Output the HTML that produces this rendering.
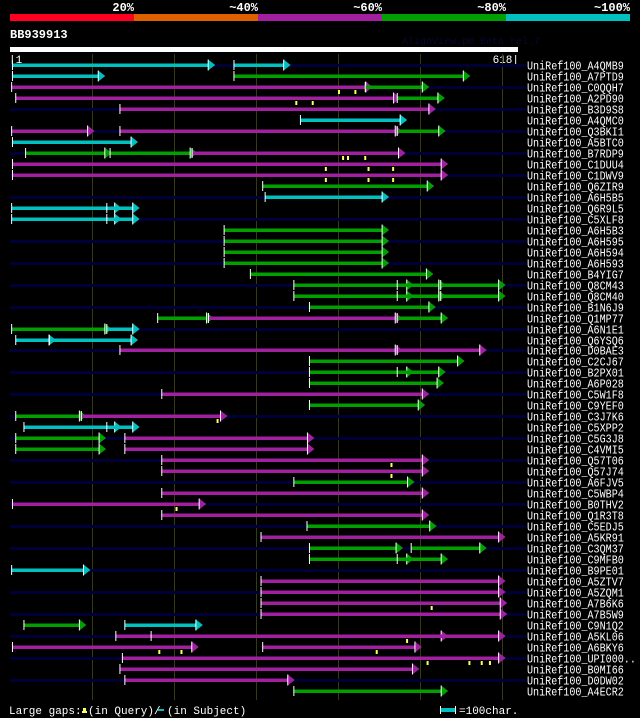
<!DOCTYPE html>
<html><head><meta charset="utf-8">
<style>
html,body{margin:0;padding:0;background:#000;}
svg{display:block;}
text{font-family:"Liberation Mono","DejaVu Sans Mono",monospace;}
</style></head>
<body>
<svg id="chart" width="640" height="718" viewBox="0 0 640 718">
<rect x="0" y="0" width="640" height="718" fill="#000"/>
<g>
<rect x="10" y="14" width="124" height="7" fill="#ff0020"/>
<rect x="134" y="14" width="124" height="7" fill="#e06000"/>
<rect x="258" y="14" width="124" height="7" fill="#a020a0"/>
<rect x="382" y="14" width="124" height="7" fill="#00a000"/>
<rect x="506" y="14" width="124" height="7" fill="#00c0c0"/>
<text x="134" y="11" fill="#fff" font-size="12" font-weight="bold" text-anchor="end">20%</text>
<text x="258" y="11" fill="#fff" font-size="12" font-weight="bold" text-anchor="end">~40%</text>
<text x="382" y="11" fill="#fff" font-size="12" font-weight="bold" text-anchor="end">~60%</text>
<text x="506" y="11" fill="#fff" font-size="12" font-weight="bold" text-anchor="end">~80%</text>
<text x="630" y="11" fill="#fff" font-size="12" font-weight="bold" text-anchor="end">~100%</text>
</g>
<text x="10" y="38" fill="#fff" font-size="12" font-weight="bold">BB939913</text>
<text x="402" y="44" fill="#080830" font-size="10">AlignView.pm Beta rel.7</text>
<rect x="10" y="47" width="508" height="5" fill="#fff"/>
<text x="9" y="63" fill="#fff" font-size="11">|1</text>
<text x="519" y="63" fill="#fff" font-size="11" text-anchor="end">618|</text>
<g id="grid"></g>
<g id="rows"></g>
<g>
<text x="9" y="714" fill="#fff" font-size="11">Large gaps:</text>
<rect x="83" y="708" width="3" height="4" fill="#ffff60"/><rect x="82" y="711" width="5" height="2" fill="#ffff60"/>
<text x="88" y="714" fill="#fff" font-size="11">(in Query)/</text>
<rect x="158" y="709" width="6" height="2" fill="#00c0c0"/>
<text x="167" y="714" fill="#fff" font-size="11">(in Subject)</text>
<rect x="440" y="706" width="1" height="8" fill="#fff"/>
<rect x="441" y="708" width="14" height="4" fill="#00c0c0"/>
<rect x="455" y="706" width="1" height="8" fill="#fff"/>
<text x="459" y="714" fill="#fff" font-size="11">=100char.</text>
</g>
</svg>
<script>
const names=["A4QMB9","A7PTD9","C0QQH7","A2PD90","B3D9S8","A4QMC0","Q3BKI1","A5BTC0","B7RDP9","C1DUU4","C1DWV9","Q6ZIR9","A6H5B5","Q6R9L5","C5XLF8","A6H5B3","A6H595","A6H594","A6H593","B4YIG7","Q8CM43","Q8CM40","B1N6J9","Q1MP77","A6N1E1","Q6YSQ6","D0BAE3","C2CJ67","B2PX01","A6P028","C5W1F8","C9YEF0","C3J7K6","C5XPP2","C5G3J8","C4VMI5","Q57T06","Q57J74","A6FJV5","C5WBP4","B0THV2","Q1R3T8","C5EDJ5","A5KR91","C3QM37","C9MFB0","B9PE01","A5ZTV7","A5ZQM1","A7B6K6","A7B5W9","C9N1Q2","A5KL06","A6BKY6","UPI000..","B0MI66","D0DW02","A4ECR2"];
// segments per row: [start, end, colorCode] in query residues; c=cyan g=green p=purple
const segments=[
[[3,244,"c"],[273,336,"c"]],
[[3,110,"c"],[273,555,"g"]],
[[2,436,"p"],[433,505,"g"]],
[[7,470,"p"],[472,524,"g"]],
[[134,513,"p"]],
[[354,478,"c"]],
[[2,97,"p"],[134,472,"p"],[472,525,"g"]],
[[3,150,"c"]],
[[19,118,"g"],[122,222,"g"],[222,476,"p"]],
[[3,528,"p"]],
[[3,528,"p"]],
[[308,511,"g"]],
[[311,456,"c"]],
[[2,130,"c"],[118,152,"c"]],
[[2,130,"c"],[118,152,"c"]],
[[261,456,"g"]],
[[261,456,"g"]],
[[261,456,"g"]],
[[261,456,"g"]],
[[293,510,"g"]],
[[346,486,"g"],[472,525,"g"],[525,598,"g"]],
[[346,486,"g"],[472,525,"g"],[525,598,"g"]],
[[365,513,"g"]],
[[180,242,"g"],[242,472,"p"],[472,528,"g"]],
[[2,118,"g"],[118,152,"c"]],
[[7,50,"c"],[48,150,"c"]],
[[134,472,"p"],[472,575,"p"]],
[[365,548,"g"]],
[[365,486,"g"],[472,525,"g"]],
[[365,523,"g"]],
[[185,505,"p"]],
[[365,500,"g"]],
[[7,87,"g"],[87,259,"p"]],
[[17,130,"c"],[118,152,"c"]],
[[7,111,"g"],[140,365,"p"]],
[[7,111,"g"],[140,365,"p"]],
[[185,505,"p"]],
[[185,505,"p"]],
[[346,487,"g"]],
[[185,505,"p"]],
[[3,233,"p"]],
[[185,505,"p"]],
[[362,514,"g"]],
[[306,598,"p"]],
[[365,473,"g"],[489,575,"g"]],
[[365,486,"g"],[472,528,"g"]],
[[2,92,"c"]],
[[306,598,"p"]],
[[306,598,"p"]],
[[306,600,"p"]],
[[306,600,"p"]],
[[17,87,"g"],[140,229,"c"]],
[[129,528,"p"],[172,598,"p"]],
[[3,224,"p"],[308,496,"p"]],
[[137,598,"p"]],
[[134,493,"p"]],
[[140,341,"p"]],
[[346,528,"g"]]
];
// query gaps (yellow markers) per row index
const gapRows=[2,2,3,3,8,8,8,9,9,9,10,10,10,32,36,37,40,49,52,53,53,53,54,54,54,54];
const gapPos=[401,421,349,369,406,412,433,385,437,467,385,437,467,253,465,465,203,514,484,182,209,447,509,560,575,585];
const gridTicks=[100,200,300,400,500,600];
const colors={c:"#00c0c0",g:"#00a000",p:"#a020a0"};
const NS="http://www.w3.org/2000/svg";
function xScale(pos){return 10+pos*0.8204;}
function yRow(i){return 65+i*10.98;}
function mk(tag,attrs,parent){const e=document.createElementNS(NS,tag);for(const k in attrs)e.setAttribute(k,attrs[k]);parent.appendChild(e);return e;}
const grid=document.getElementById("grid");
gridTicks.forEach(t=>{
  const l=mk("rect",{x:Math.round(xScale(t)),y:54,width:1,height:646,fill:"#3a3a10"},grid);
  
  
});
const rows=document.getElementById("rows");
names.forEach((n,i)=>{
  const y=Math.round(yRow(i));
  const g=mk("g",{},rows);
  
  
  if(i%2===0){mk("rect",{x:10,y:y-1,width:516,height:3,fill:"#000038"},g);}
  segments[i].forEach(s=>{
    const x1=xScale(s[0]),x2=xScale(s[1]);
    const r=mk("rect",{x:x1,y:y-1.5,width:Math.max(1,x2-x1),height:3.5,fill:colors[s[2]]},g);
    
    
    mk("rect",{x:x1-0.5,y:y-5,width:1,height:10,fill:"#fff"},g);
    mk("polygon",{points:`${x2-2},${y-5.5} ${x2+5},${y} ${x2-2},${y+5.5}`,fill:colors[s[2]]},g);
    mk("polyline",{points:`${x2-2},${y-5.5} ${x2-2},${y+5.5}`,stroke:"#fff","stroke-width":1},g);
  });
  const label="UniRef100_"+n;
  const t=mk("text",{x:527,y:y+4.5,fill:"#fff","font-size":12,textLength:label.length*6.05,lengthAdjust:"spacingAndGlyphs"},g);
  t.textContent=label;
  
  
});
gapRows.forEach((r,k)=>{
  const y=Math.round(yRow(r));
  const x=xScale(gapPos[k]);
  const m=mk("rect",{x:x-1,y:y+3,width:2,height:4,fill:"#ffff60"},rows);
  
  
});
</script>
</body></html>
